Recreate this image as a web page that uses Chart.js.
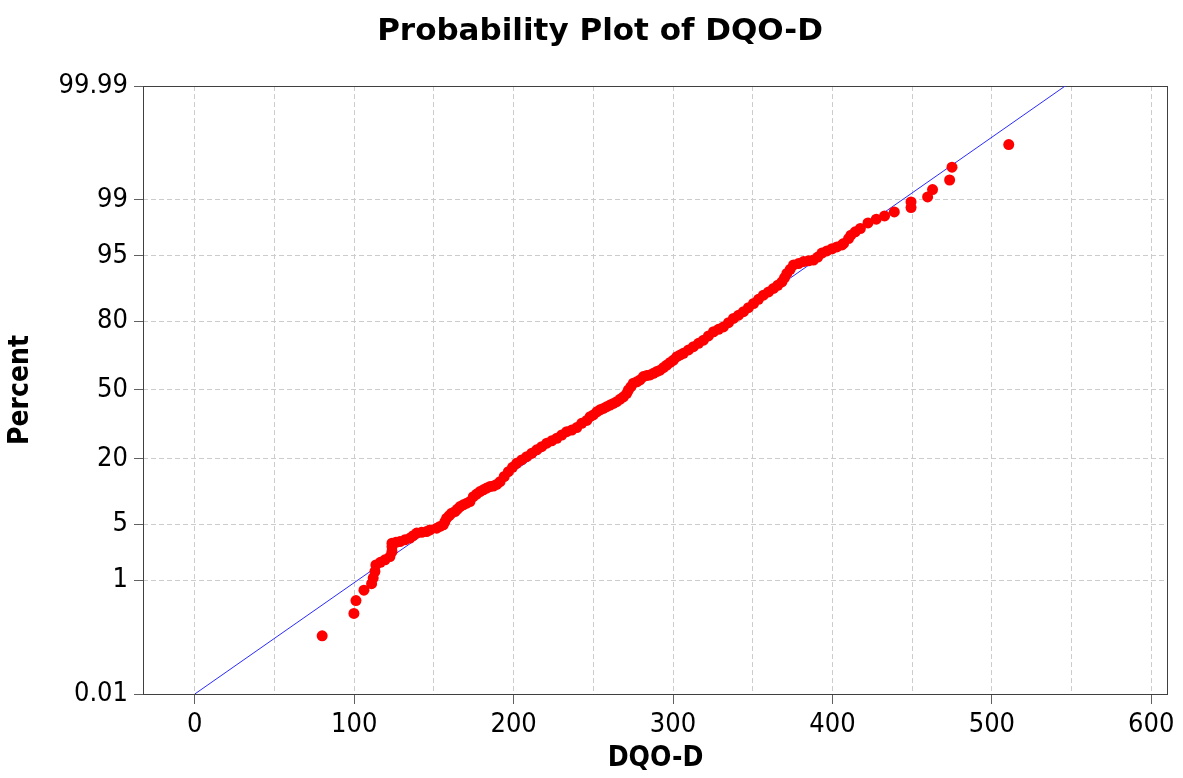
<!DOCTYPE html>
<html>
<head>
<meta charset="utf-8">
<script src="https://cdn.jsdelivr.net/npm/chart.js@4.4.1/dist/chart.umd.min.js"></script>
<style>
  html, body { margin: 0; padding: 0; background: #ffffff; }
  #wrap { width: 1183px; height: 778px; }
</style>
</head>
<body>
<div id="wrap"><canvas id="c" width="1183" height="778"></canvas></div>
<script>
// ---- data ----
const chartTitle = 'Probability Plot of DQO-D';
const xAxisTitle = 'DQO-D';
const yAxisTitle = 'Percent';

const dqoValues = [
  79.9, 99.8, 101.1, 106.1, 110.9, 111.9, 113.0, 113.6, 116.4, 119.3,
  122.4, 123.7, 123.7, 123.7, 126.2, 128.7, 131.8, 135.0, 137.0, 139.2,
  142.3, 145.4, 147.5, 151.7, 153.8, 155.9, 156.9, 158.0, 159.6, 161.1,
  163.2, 164.8, 166.4, 168.4, 170.6, 172.6, 174.7, 176.8, 178.9, 181.0,
  183.1, 185.2, 187.3, 189.4, 191.5, 194.1, 196.7, 199.3, 201.9, 205.1,
  208.2, 211.4, 214.5, 217.6, 220.8, 223.9, 227.1, 230.2, 233.3, 236.5,
  239.6, 242.7, 245.9, 248.0, 250.0, 252.2, 254.2, 256.3, 258.4, 260.5,
  262.6, 264.7, 266.9, 268.9, 271.0, 272.0, 273.6, 275.1, 277.3, 279.3,
  281.4, 283.5, 285.6, 287.7, 289.8, 291.9, 294.0, 296.1, 298.2, 300.3,
  302.4, 304.5, 306.5, 309.7, 312.8, 316.0, 319.1, 322.2, 325.4, 328.5,
  331.6, 334.8, 337.9, 341.1, 344.2, 347.3, 350.5, 353.6, 356.7, 359.9,
  363.0, 365.7, 368.3, 369.9, 371.4, 373.5, 375.6, 378.7, 381.9, 385.0,
  388.1, 390.8, 393.4, 396.5, 399.7, 402.8, 406.0, 407.0, 410.1, 411.6,
  414.3, 417.5, 422.3, 427.5, 432.7, 438.8, 449.3, 449.3, 459.7, 462.8,
  473.5, 475.0, 510.6
];
const percentValues = [
  0.132, 0.313, 0.50, 0.716, 0.89, 1.07, 1.32, 1.62, 1.75, 1.89,
  2.08, 2.41, 2.77, 3.05, 3.12, 3.19, 3.34, 3.50, 3.74, 4.00,
  4.08, 4.16, 4.35, 4.55, 4.75, 4.95, 5.38, 5.84, 6.21, 6.59,
  6.85, 7.26, 7.69, 8.0, 8.3, 8.61, 9.6, 10.15, 10.7, 11.1,
  11.5, 11.86, 12.0, 12.4, 13.1, 14.5, 15.9, 17.2, 18.5, 19.6,
  20.75, 21.95, 23.2, 24.4, 25.75, 26.7, 27.75, 29.1, 30.5, 31.2,
  32.3, 34.2, 35.5, 37.2, 38.0, 39.5, 40.4, 41.1, 41.9, 42.7,
  43.5, 44.3, 45.6, 46.7, 48.4, 50.0, 51.6, 53.3, 54.0, 54.9,
  56.5, 57.0, 57.3, 58.1, 58.9, 59.6, 60.8, 62.0, 63.2, 64.3,
  65.8, 66.6, 67.3, 68.8, 70.2, 71.6, 72.9, 74.6, 76.2, 77.1,
  78.0, 79.5, 80.95, 82.0, 83.1, 84.3, 85.5, 86.65, 87.7, 88.5,
  89.3, 90.0, 90.7, 91.5, 92.3, 93.0, 93.7, 93.9, 94.2, 94.3,
  94.4, 94.8, 95.3, 95.55, 95.8, 96.0, 96.2, 96.35, 96.8, 97.09,
  97.35, 97.59, 97.95, 98.17, 98.34, 98.53, 98.72, 98.93, 99.09, 99.29,
  99.49, 99.68, 99.866
];

// fitted normal line, read at its two ends on the frame
const fitLineX = [0, 546];
const fitLinePercent = [0.01, 99.99];

// axes
const percentTicks = [0.01, 1, 5, 20, 50, 80, 95, 99, 99.99];
const percentTickLabels = ['0.01', '1', '5', '20', '50', '80', '95', '99', '99.99'];
const xGridValues = [0, 50, 100, 150, 200, 250, 300, 350, 400, 450, 500, 550, 600];
const xLabelStep = 100;
const xMin = -32.5, xMax = 610.5;

// ---- normal probability scale transform (inverse normal CDF) ----
function probit(p) {
  const a = [-3.969683028665376e+01, 2.209460984245205e+02, -2.759285104469687e+02, 1.383577518672690e+02, -3.066479806614716e+01, 2.506628277459239e+00];
  const b = [-5.447609879822406e+01, 1.615858368580409e+02, -1.556989798598866e+02, 6.680131188771972e+01, -1.328068155288572e+01];
  const c = [-7.784894002430293e-03, -3.223964580411365e-01, -2.400758277161838e+00, -2.549732539343734e+00, 4.374664141464968e+00, 2.938163982698783e+00];
  const d = [7.784695709041462e-03, 3.224671290700398e-01, 2.445134137142996e+00, 3.754408661907416e+00];
  const pl = 0.02425, ph = 1 - pl;
  let q, r;
  if (p < pl) {
    q = Math.sqrt(-2 * Math.log(p));
    return (((((c[0]*q+c[1])*q+c[2])*q+c[3])*q+c[4])*q+c[5]) / ((((d[0]*q+d[1])*q+d[2])*q+d[3])*q+1);
  }
  if (p <= ph) {
    q = p - 0.5; r = q * q;
    return (((((a[0]*r+a[1])*r+a[2])*r+a[3])*r+a[4])*r+a[5])*q / (((((b[0]*r+b[1])*r+b[2])*r+b[3])*r+b[4])*r+1);
  }
  q = Math.sqrt(-2 * Math.log(1 - p));
  return -(((((c[0]*q+c[1])*q+c[2])*q+c[3])*q+c[4])*q+c[5]) / ((((d[0]*q+d[1])*q+d[2])*q+d[3])*q+1);
}
const toZ = pct => probit(pct / 100);

const pointData = dqoValues.map((v, i) => ({ x: v, y: toZ(percentValues[i]) }));
const lineData = fitLineX.map((v, i) => ({ x: v, y: toZ(fitLinePercent[i]) }));

const tickFont = { family: "'DejaVu Sans Condensed', 'DejaVu Sans', sans-serif", size: 27 };
const axisTitleFont = { family: "'DejaVu Sans Condensed', 'DejaVu Sans', sans-serif", size: 28, weight: 'bold', lineHeight: 1.2 };

const frameAndTitle = {
  id: 'frameAndTitle',
  afterLayout(chart) {
    const t = chart.titleBlock;
    if (t) { t.left = 17; t.right = 1183; }
  },
  beforeDatasetsDraw(chart) {
    const { ctx, chartArea: a } = chart;
    ctx.save();
    ctx.strokeStyle = '#404040';
    ctx.lineWidth = 1;
    ctx.setLineDash([]);
    ctx.strokeRect(Math.round(a.left) + 0.5, Math.round(a.top) + 0.5,
                   Math.round(a.right - a.left) - 1, Math.round(a.bottom - a.top));
    ctx.restore();
  }
};

new Chart(document.getElementById('c'), {
  type: 'scatter',
  data: {
    datasets: [
      {
        label: 'DQO-D',
        data: pointData,
        order: 0,
        pointRadius: 5.5,
        pointHoverRadius: 5.5,
        pointBackgroundColor: '#ff0000',
        pointBorderWidth: 0,
        showLine: false
      },
      {
        label: 'Fit',
        data: lineData,
        order: 1,
        showLine: true,
        borderColor: '#2a2aff',
        borderWidth: 1,
        pointRadius: 0,
        fill: false
      }
    ]
  },
  options: {
    responsive: false,
    animation: false,
    events: [],
    layout: { padding: { left: 0, right: 15, top: 0, bottom: 0 } },
    plugins: {
      legend: { display: false },
      tooltip: { enabled: false },
      title: {
        display: true,
        text: chartTitle,
        color: '#000000',
        font: { family: "'DejaVu Sans', sans-serif", size: 31, weight: 'bold', lineHeight: 1.2 },
        padding: { top: 13, bottom: 35.8 }
      }
    },
    scales: {
      x: {
        type: 'linear',
        min: xMin,
        max: xMax,
        afterBuildTicks: s => { s.ticks = xGridValues.map(v => ({ value: v })); },
        afterFit: s => { s.height = 84; },
        ticks: {
          autoSkip: false,
          maxRotation: 0,
          padding: 5,
          color: '#000000',
          font: tickFont,
          callback: v => (v % xLabelStep === 0 ? String(v) : '')
        },
        grid: {
          color: '#cccccc',
          lineWidth: 1,
          tickLength: 10,
          tickColor: ctx => (ctx.tick && ctx.tick.value % xLabelStep === 0 ? '#606060' : 'rgba(0,0,0,0)')
        },
        border: { display: false, dash: [5, 3] },
        title: {
          display: true,
          text: xAxisTitle,
          color: '#000000',
          font: axisTitleFont,
          padding: { top: 0, bottom: 2 }
        }
      },
      y: {
        type: 'linear',
        min: toZ(0.01),
        max: toZ(99.99),
        afterBuildTicks: s => { s.ticks = percentTicks.map(p => ({ value: toZ(p) })); },
        afterFit: s => { s.width = 143; },
        ticks: {
          autoSkip: false,
          padding: 6,
          color: '#000000',
          font: tickFont,
          callback: (v, i) => percentTickLabels[i]
        },
        grid: {
          color: '#cccccc',
          lineWidth: 1,
          tickLength: 9,
          tickColor: '#606060'
        },
        border: { display: false, dash: [5, 3] },
        title: {
          display: true,
          text: yAxisTitle,
          color: '#000000',
          font: axisTitleFont,
          padding: { top: 4, bottom: 0 }
        }
      }
    }
  },
  plugins: [frameAndTitle]
});
</script>
</body>
</html>
